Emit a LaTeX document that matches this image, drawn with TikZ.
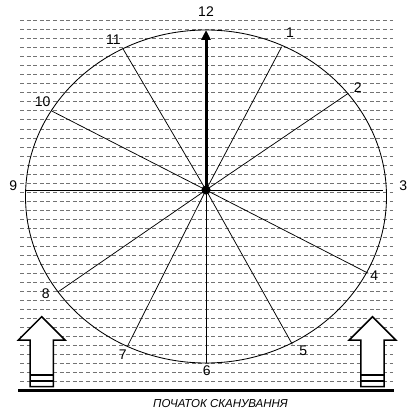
\documentclass[tikz,border=0pt]{standalone}
\usepackage{fontspec}
\setmainfont{Liberation Sans}
\usetikzlibrary{arrows.meta}
\begin{document}
\begin{tikzpicture}[x=1pt,y=-1pt,
  hatch/.style={draw=black!55, line width=1pt, dash pattern=on 4pt off 2.6pt},
  spoke/.style={draw=black, line width=0.75pt},
  rim/.style={draw=black, line width=0.85pt},
  lbl/.style={inner sep=0pt, font=\fontsize{14}{16}\selectfont},
  blockarrow/.style={draw=black, fill=white, line width=1.5pt, line join=miter},
  bar/.style={draw=black, line width=1.8pt}]
\useasboundingbox (0,0) rectangle (411,409);
% hatch lines
\foreach \i in {0,...,40}{
  \draw[hatch] (20,{20.7+9.025*\i}) -- (393,{20.7+9.025*\i});
}
% rim
\draw[rim] (206,196.5) ellipse [x radius=180.5, y radius=166.5];
% centre and spoke ends
\coordinate (C) at (206,190);
\coordinate (P1) at (281.7,46.7);
\coordinate (P2) at (348.3,93.3);
\coordinate (P3) at (383.3,190);
\coordinate (P4) at (368.3,273.3);
\coordinate (P5) at (292.3,344.3);
\coordinate (P6) at (206,363.3);
\coordinate (P7) at (127.7,345.7);
\coordinate (P8) at (58.3,291.7);
\coordinate (P9) at (25.7,190);
\coordinate (P10) at (51.7,111);
\coordinate (P11) at (122.7,48.3);
\coordinate (P12) at (206,30);
\foreach \p in {P1,P2,P3,P4,P5,P6,P7,P8,P9,P10,P11}{
  \draw[spoke] (C) -- (\p);
}
\draw[line width=3pt, -{Triangle[length=10pt,width=9pt]}] (C) -- (P12);
\fill (C) circle (4.6pt);
% labels
\node[lbl] (l12) at (206,12) {12};
\node[lbl] (l1) at (290,33) {1};
\node[lbl] (l2) at (357.7,87.3) {2};
\node[lbl] (l3) at (403.3,185.7) {3};
\node[lbl] (l4) at (374.3,276) {4};
\node[lbl] (l5) at (303.3,351) {5};
\node[lbl] (l6) at (206.7,370.7) {6};
\node[lbl] (l7) at (122.7,354.3) {7};
\node[lbl] (l8) at (45.7,294) {8};
\node[lbl] (l9) at (13.3,185.7) {9};
\node[lbl] (l10) at (42.7,101.7) {10};
\node[lbl] (l11) at (113.3,39.3) {11};
% block arrows
\foreach \cx in {41.7,372.5}{
  \draw[blockarrow] (\cx,316.7) -- (\cx+23.3,340) -- (\cx+11.6,340) -- (\cx+11.6,386.5)
     -- (\cx-11.6,386.5) -- (\cx-11.6,340) -- (\cx-23.3,340) -- cycle;
  \draw[bar] (\cx-11.6,375) -- (\cx+11.6,375);
  \draw[line width=1.3pt] (\cx-11.6,381) -- (\cx+11.6,381);
}
% base line
\draw[line width=2.2pt] (18,390.5) -- (394,390.5);
\node[inner sep=0pt, font=\fontsize{11.5}{13}\selectfont\itshape] (cap) at (220.5,403.3) {ПОЧАТОК СКАНУВАННЯ};
\end{tikzpicture}
\end{document}
